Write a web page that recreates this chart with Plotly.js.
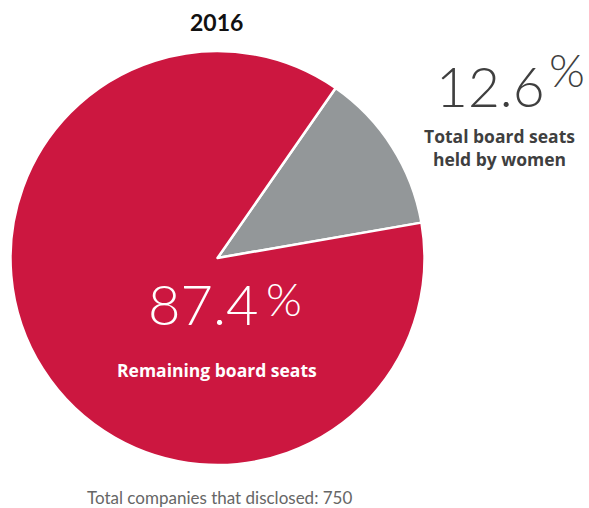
<!DOCTYPE html>
<html>
<head>
<meta charset="utf-8">
<script src="https://cdn.plot.ly/plotly-3.0.1.min.js"></script>
<style>html,body{margin:0;padding:0;background:#fff;}#chart{width:589px;height:508px;}</style>
</head>
<body>
<div id="chart"></div>
<script>
var year = "2016";
var labels = ["Total board seats held by women", "Remaining board seats"];
var values = [12.6, 87.4];
var colors = ["#939799", "#CC1740"];
var footer = "Total companies that disclosed: 750";

var W = 589, H = 508;
function px(x){ return x / W; }
function py(y){ return 1 - y / H; }

var data = [{
  type: "pie",
  labels: labels,
  values: values,
  sort: false,
  direction: "clockwise",
  rotation: 34.8,
  marker: {colors: colors, line: {color: "#ffffff", width: 2.5}},
  textinfo: "none",
  hoverinfo: "none",
  showlegend: false,
  domain: {x: [px(10.5), px(424.5)], y: [py(465), py(51)]}
}];

var lightFont = "Lato, 'Open Sans', sans-serif";
var boldFont = "'Open Sans', 'Noto Sans', sans-serif";

function ann(text, x, y, xa, font, extra) {
  var a = {text: text, x: px(x), y: py(y), xref: "paper", yref: "paper",
           xanchor: xa, yanchor: "middle", showarrow: false, font: font};
  if (extra) for (var k in extra) a[k] = extra[k];
  return a;
}

var annotations = [
  ann("<b>" + year + "</b>", 216, 22, "center", {family: "Lato, sans-serif", size: 23, color: "#111111", weight: 900}),
  ann(values[0].toFixed(1), 547, 86, "right", {family: lightFont, size: 55, color: "#3f3f3f", weight: 300}),
  ann("%", 547, 70, "left", {family: lightFont, size: 46, color: "#3f3f3f", weight: 300}),
  ann("<b>Total board seats<br>held by women</b>", 499, 148, "center", {family: boldFont, size: 17.5, color: "#3f3f3f"}, {align: "center"}),
  ann(values[1].toFixed(1), 261, 303, "right", {family: lightFont, size: 56, color: "#ffffff", weight: 300}),
  ann("%", 264, 298, "left", {family: lightFont, size: 46, color: "#ffffff", weight: 300}),
  ann("<b>Remaining board seats</b>", 217, 370, "center", {family: boldFont, size: 17.5, color: "#ffffff"}),
  ann(footer, 219, 497, "center", {family: lightFont, size: 17, color: "#666666", weight: 400})
];

var layout = {
  width: W, height: H,
  margin: {l: 0, r: 0, t: 0, b: 0},
  paper_bgcolor: "#ffffff",
  annotations: annotations
};

Plotly.newPlot("chart", data, layout, {displayModeBar: false, staticPlot: true});
</script>
</body>
</html>
